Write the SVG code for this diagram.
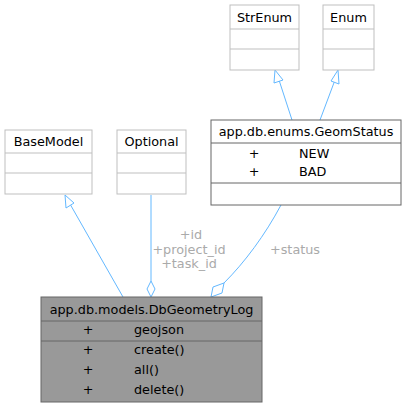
<svg xmlns="http://www.w3.org/2000/svg" width="407" height="408" viewBox="0 0 407 408">
<defs>
<style>
text{font-family:"DejaVu Sans",sans-serif;font-size:12.8px;fill:#000}
.c{text-anchor:middle}
.lbl{fill:#aaa;text-anchor:middle}
.ext{fill:#fff;stroke:#bfbfbf;stroke-width:1}
.cls{fill:#fff;stroke:#666;stroke-width:1}
.main{fill:#999;stroke:#666;stroke-width:1}
.e{fill:none;stroke:#63b8ff;stroke-width:1}
.tri{fill:#fff;stroke:#63b8ff}
</style>
</defs>
<rect width="407" height="408" fill="#fff"/>
<g id="connectors">
<path class="e" d="M123,297 L70,204"/>
<polygon class="tri" points="65,195 66,208 74,203"/>
<path class="e" d="M151,195 L151,281"/>
<polygon class="tri" points="151,281 155,289 151,297 147,289"/>
<path class="e" d="M281,205 C265,235 245,262 224,283"/>
<polygon class="tri" points="224,283 222,293 211,297 213,287"/>
<path class="e" d="M292,120 L279,80"/>
<polygon class="tri" points="275,70 274,83 283,80"/>
<path class="e" d="M320,120 L335,80"/>
<polygon class="tri" points="338,70 331,81 339,84"/>
<text class="lbl" x="191" y="239">+id</text>
<text class="lbl" x="189" y="254">+project_id</text>
<text class="lbl" x="189" y="268">+task_id</text>
<text class="lbl" x="295" y="254">+status</text>
</g>
<g id="BaseModel">
<rect class="ext" x="5" y="130" width="87" height="64"/>
<line class="ext" x1="5" y1="153" x2="92" y2="153"/>
<line class="ext" x1="5" y1="173" x2="92" y2="173"/>
<text class="c" x="48.5" y="146">BaseModel</text>
</g>
<g id="Optional">
<rect class="ext" x="117" y="130" width="69" height="64"/>
<line class="ext" x1="117" y1="153" x2="186" y2="153"/>
<line class="ext" x1="117" y1="173" x2="186" y2="173"/>
<text class="c" x="151.5" y="146">Optional</text>
</g>
<g id="StrEnum">
<rect class="ext" x="230" y="5" width="69" height="65"/>
<line class="ext" x1="230" y1="29" x2="299" y2="29"/>
<line class="ext" x1="230" y1="49" x2="299" y2="49"/>
<text class="c" x="264.5" y="22">StrEnum</text>
</g>
<g id="Enum">
<rect class="ext" x="323" y="5" width="51" height="65"/>
<line class="ext" x1="323" y1="29" x2="374" y2="29"/>
<line class="ext" x1="323" y1="49" x2="374" y2="49"/>
<text class="c" x="348.5" y="22">Enum</text>
</g>
<g id="GeomStatus">
<rect class="cls" x="211" y="120" width="190" height="85"/>
<line class="cls" x1="211" y1="143" x2="401" y2="143"/>
<line class="cls" x1="211" y1="183" x2="401" y2="183"/>
<text class="c" x="306" y="136">app.db.enums.GeomStatus</text>
<text class="c" x="254" y="158">+</text>
<text x="299" y="158">NEW</text>
<text class="c" x="254" y="176">+</text>
<text x="299" y="176">BAD</text>
</g>
<g id="DbGeometryLog">
<rect class="main" x="41" y="297" width="221" height="105"/>
<line class="main" x1="41" y1="321" x2="262" y2="321"/>
<line class="main" x1="41" y1="341" x2="262" y2="341"/>
<text class="c" x="151.5" y="314">app.db.models.DbGeometryLog</text>
<text class="c" x="88" y="334">+</text>
<text x="134" y="334">geojson</text>
<text class="c" x="88" y="354">+</text>
<text x="134" y="354">create()</text>
<text class="c" x="88" y="374">+</text>
<text x="134" y="374">all()</text>
<text class="c" x="88" y="394">+</text>
<text x="134" y="394">delete()</text>
</g>
</svg>
